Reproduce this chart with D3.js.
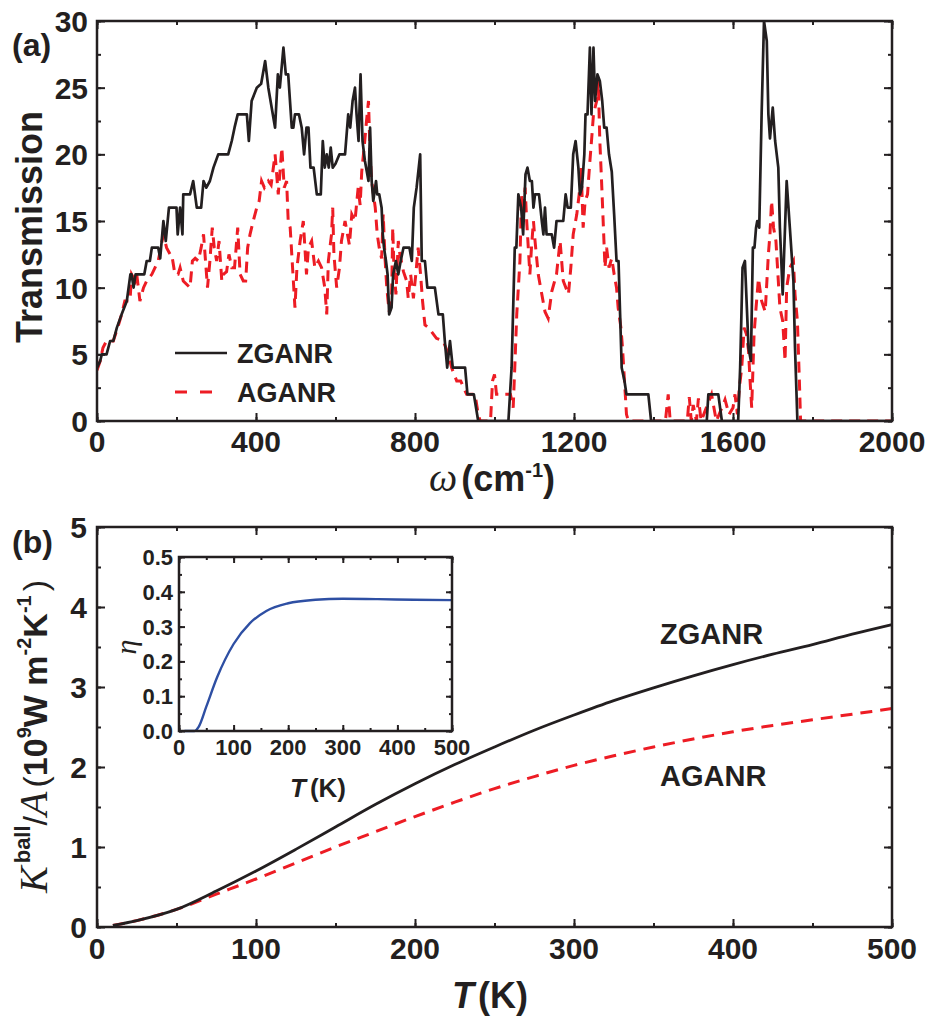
<!DOCTYPE html>
<html>
<head>
<meta charset="utf-8">
<script src="https://cdn.jsdelivr.net/npm/d3@7"></script>
<style>
  body { margin: 0; background: #fff; }
  svg { display: block; }
  text { font-family: "Liberation Sans", Arial, sans-serif; font-weight: bold; fill: #231f20; }
  .narrow { font-family: "Liberation Sans Narrow", "Liberation Sans", Arial, sans-serif; }
  .serif { font-family: "Liberation Serif", "Times New Roman", serif; font-style: italic; font-weight: normal; }
</style>
</head>
<body>
<svg id="fig" width="930" height="1024"></svg>
<script>
// ---- panel (a): transmission vs frequency, [omega (cm^-1), T]
const zganrTrans = [[0,4],[8,4.5],[12,5],[24,5],[33,6],[41,6],[50,7],[62,8],[75,9],[84,11],[87,11],[92,10],[97,11],[119,11],[125,12],[133,12],[138,13],[154,13],[159,12.2],[167,15],[173,13.5],[181,16],[200,16],[203,14],[209,16],[215,14],[217,17],[234,17],[242,18],[251,16],[262,16],[268,18],[275,17.5],[284,18],[293,19],[305,20],[330,20],[339,21],[346,22],[354,23],[377,23],[382,21],[389,24],[402,25],[413,25.3],[423,27],[431,25],[448,22],[455,26],[460,25],[469,28],[475,26],[481,26],[490,22],[494,22],[498,23],[508,23],[515,22],[521,20],[527,22],[532,22],[537,19],[545,19],[553,17],[563,17],[568,21],[573,19],[578,20],[583,19],[588,20.5],[593,19],[600,19.3],[610,20],[624,20],[632,23],[637,22],[643,24],[649,25],[653,23],[658,21],[663,26],[668,21],[674,19.5],[683,18],[687,22],[691,18],[695,16.5],[702,18],[705,17],[710,17],[716,16],[719,14],[722,13],[727,12],[731,11],[735,8],[741,8.5],[745,11],[752,12],[758,11],[764,12],[771,13],[786,13],[792,12],[797,16],[804,17.5],[813,20],[817,12],[825,12],[831,10],[850,10],[859,8],[870,8],[875,6],[881,4],[888,6],[895,4],[926,4],[932,2],[948,2],[959,0],[1035,0],[1043,4],[1051,13],[1055,13],[1060,17],[1067,16],[1072,14],[1078,18.5],[1083,19],[1089,18],[1094,18],[1098,16],[1102,17],[1112,17],[1119,15],[1123,14],[1127,16],[1131,14],[1144,14],[1150,13],[1156,15],[1173,15],[1179,17],[1184,16],[1192,16],[1198,20],[1204,21],[1211,19],[1215,17],[1220,17.5],[1226,20],[1229,23],[1234,23],[1240,28],[1244,23],[1249,28],[1253,24],[1259,26],[1265,25.5],[1271,24],[1276,22],[1282,22],[1288,20],[1295,18.7],[1301,15.5],[1307,12],[1312,12],[1316,8],[1320,4],[1327,3],[1332,2],[1387,2],[1394,0],[1534,0],[1538,2],[1563,2],[1572,0],[1613,0],[1618,4],[1624,11.5],[1630,12],[1639,5.5],[1645,4.5],[1650,13],[1654,13],[1658,14.5],[1661,15],[1666,14.5],[1672,23],[1678,30],[1685,28.5],[1689,23],[1693,21.2],[1700,23.5],[1706,21],[1714,19],[1718,14.5],[1725,9.5],[1735,18],[1743,14.5],[1752,10.5],[1756,5.5],[1762,0],[2000,0]];

const aganrTrans = [[0,3.8],[8,4.5],[15,5.5],[24,6],[41,6],[54,7.2],[62,8],[70,9],[83,9],[87,11],[96,10.5],[100,11],[108,9],[117,10],[125,10.5],[138,11],[154,12],[167,14],[175,13],[184,12.5],[188,12.5],[196,11],[204,11],[209,11.5],[217,10.5],[234,10],[240,12],[247,12.2],[255,12],[262,13],[268,14],[273,12],[278,10],[284,12],[290,14.5],[295,13],[301,12],[307,13.5],[314,10.5],[318,11],[326,11.2],[332,12.5],[339,11.5],[346,11.5],[354,14.5],[360,11],[368,10.5],[374,10.5],[379,13],[385,14],[393,15],[402,16],[408,16.5],[414,18],[421,17.5],[431,18],[438,17.7],[448,20],[456,17],[465,20.5],[471,17.5],[477,18],[481,15],[486,14.5],[490,12.5],[494,10.5],[498,8.5],[503,11.5],[511,13.5],[519,15],[523,13],[527,11],[532,13],[540,13.5],[548,11.5],[557,12],[565,11.5],[573,10],[578,8],[582,12],[590,14],[593,16],[596,12.5],[603,10],[610,11.5],[615,13.5],[624,15],[635,13.2],[641,15.5],[649,15],[657,17.5],[662,16.2],[666,18.7],[672,20.5],[678,22.5],[683,24],[687,20],[691,18],[700,16],[705,14],[710,13],[716,12.2],[720,15.5],[725,12],[729,10],[735,8.2],[741,9],[744,14.5],[747,11.5],[752,9.5],[758,13.5],[762,12.5],[771,11.2],[779,10.5],[783,9.2],[789,11],[796,9.2],[802,11],[808,13],[814,11],[819,9],[825,7.2],[834,7],[854,6.2],[871,6],[884,5],[892,4],[905,3],[915,3],[930,2],[951,2],[959,0.5],[964,0],[990,0],[995,3],[1000,3.5],[1005,2],[1014,2],[1040,2],[1047,1],[1051,4],[1056,8],[1060,10],[1064,12],[1068,17],[1072,15],[1077,17.5],[1081,15],[1085,13],[1089,11],[1093,13],[1098,15],[1102,13.5],[1110,11],[1119,9.5],[1127,8.2],[1135,7.7],[1144,9.7],[1156,11],[1165,13.5],[1173,10.5],[1186,9.5],[1192,11.5],[1198,14],[1207,15.5],[1213,17],[1218,19],[1223,14.5],[1228,16.5],[1234,17],[1240,19.5],[1244,21],[1249,23],[1257,24],[1261,25.5],[1265,21],[1270,17.5],[1274,14.5],[1278,11.5],[1282,13],[1288,11.5],[1295,12.2],[1301,11],[1307,10],[1311,8.5],[1318,7],[1322,5.5],[1327,3],[1332,0.5],[1337,0],[1430,0],[1437,2],[1442,0],[1485,0],[1490,1.8],[1495,0],[1500,1.2],[1508,0],[1513,1.7],[1520,0],[1546,2],[1552,1],[1558,0],[1575,1.2],[1580,1.6],[1590,0.5],[1600,1],[1605,2],[1611,0.5],[1616,2.5],[1622,4],[1628,7],[1634,6.5],[1639,5.3],[1643,3],[1647,1],[1653,6.5],[1658,8.5],[1664,10.7],[1672,9],[1681,8.2],[1689,12.5],[1693,14],[1697,16.5],[1702,14.5],[1708,13.5],[1714,10.5],[1718,8.5],[1725,7.5],[1731,4.5],[1735,10],[1743,11.5],[1752,12],[1756,9.5],[1762,7.5],[1767,3],[1770,0],[2000,0]];

const omegaTicks = [0, 400, 800, 1200, 1600, 2000];
const transTicks = [0, 5, 10, 15, 20, 25, 30];

// ---- panel (b): ballistic thermal conductance vs temperature
const temps = [10, 25, 50, 75, 100, 125, 150, 175, 200, 225, 250, 275, 300, 325, 350, 375, 400, 425, 450, 475, 500];
const kZganr = [0.02, 0.08, 0.22, 0.45, 0.70, 0.97, 1.25, 1.53, 1.79, 2.03, 2.25, 2.46, 2.65, 2.83, 2.99, 3.14, 3.28, 3.41, 3.53, 3.66, 3.78];
const kAganr = [0.02, 0.08, 0.22, 0.41, 0.60, 0.80, 1.00, 1.19, 1.38, 1.56, 1.73, 1.88, 2.02, 2.14, 2.25, 2.35, 2.44, 2.52, 2.59, 2.66, 2.73];
const tempTicks = [0, 100, 200, 300, 400, 500];
const kTicks = [0, 1, 2, 3, 4, 5];

// ---- inset: ratio eta vs temperature
const etaTemps = [10, 20, 28, 36, 50, 70, 100, 130, 160, 200, 250, 300, 364, 430, 500];
const etaVals = [0, 0, 0, 0.012, 0.07, 0.155, 0.25, 0.31, 0.345, 0.367, 0.377, 0.380, 0.379, 0.377, 0.376];
const etaTicks = [0.0, 0.1, 0.2, 0.3, 0.4, 0.5];

const svg = d3.select('#fig');

// frame with inward ticks on all four sides
function drawFrame(g, x, y, xMajor, xMinor, yMajor, yMinor, w, h, big) {
  const maj = big ? 8 : 6, min = big ? 4 : 3;
  const sets = [
    [d3.axisBottom(x), 'translate(0,' + h + ')', xMajor, xMinor],
    [d3.axisTop(x), 'translate(0,0)', xMajor, xMinor],
    [d3.axisLeft(y), 'translate(0,0)', yMajor, yMinor],
    [d3.axisRight(y), 'translate(' + w + ',0)', yMajor, yMinor]
  ];
  sets.forEach(([ax, tr, majorVals, minorVals]) => {
    g.append('g').attr('transform', tr)
      .call(ax.tickValues(minorVals).tickSize(-min).tickFormat(''))
      .call(s => s.select('.domain').remove())
      .selectAll('line').attr('stroke', '#231f20').attr('stroke-width', 2);
    g.append('g').attr('transform', tr)
      .call(ax.tickValues(majorVals).tickSize(-maj).tickFormat(''))
      .call(s => s.select('.domain').remove())
      .selectAll('line').attr('stroke', '#231f20').attr('stroke-width', 2);
  });
  g.append('rect').attr('width', w).attr('height', h)
    .attr('fill', 'none').attr('stroke', '#231f20').attr('stroke-width', 2.5);
}

// ================= panel (a)
const a = { left: 97, top: 21, w: 795, h: 400 };
const xA = d3.scaleLinear().domain([0, 2000]).range([0, a.w]);
const yA = d3.scaleLinear().domain([0, 30]).range([a.h, 0]);
const gA = svg.append('g').attr('transform', `translate(${a.left},${a.top})`);

gA.append('clipPath').attr('id', 'clipA').append('rect').attr('width', a.w).attr('height', a.h);
const lineA = d3.line().x(d => xA(d[0])).y(d => yA(d[1]));

gA.append('path').datum(aganrTrans).attr('clip-path', 'url(#clipA)')
  .attr('d', lineA).attr('fill', 'none').attr('stroke', '#ed1c24')
  .attr('stroke-width', 3).attr('stroke-dasharray', '11,7');
gA.append('path').datum(zganrTrans).attr('clip-path', 'url(#clipA)')
  .attr('d', lineA).attr('fill', 'none').attr('stroke', '#231f20')
  .attr('stroke-width', 2.7).attr('stroke-linejoin', 'round');

drawFrame(gA, xA, yA, omegaTicks, d3.range(0, 2001, 200), transTicks, d3.range(0, 30.1, 2.5), a.w, a.h, true);

gA.selectAll('.xlab').data(omegaTicks).enter().append('text')
  .attr('class', 'narrow').attr('x', d => xA(d)).attr('y', a.h + 31)
  .attr('text-anchor', 'middle').attr('font-size', 30).text(d => d);
gA.selectAll('.ylab').data(transTicks).enter().append('text')
  .attr('x', -9).attr('y', d => yA(d) + 11)
  .attr('text-anchor', 'end').attr('font-size', 30).text(d => d);

// legend
gA.append('line').attr('x1', 78).attr('x2', 130).attr('y1', 332).attr('y2', 332)
  .attr('stroke', '#231f20').attr('stroke-width', 2.7);
gA.append('line').attr('x1', 78).attr('x2', 115).attr('y1', 371).attr('y2', 371)
  .attr('stroke', '#ed1c24').attr('stroke-width', 3).attr('stroke-dasharray', '12,13');
gA.append('text').attr('x', 140).attr('y', 342).attr('font-size', 27).text('ZGANR');
gA.append('text').attr('x', 140).attr('y', 381).attr('font-size', 27).text('AGANR');

svg.append('text').attr('x', 12).attr('y', 56).attr('font-size', 32).text('(a)');
svg.append('text').attr('transform', 'translate(42,227) rotate(-90)')
  .attr('text-anchor', 'middle').attr('font-size', 36).text('Transmission');

const tA = svg.append('text').attr('x', 492).attr('y', 491).attr('text-anchor', 'middle').attr('font-size', 36);
tA.append('tspan').attr('class', 'serif').attr('font-size', 40).text('ω');
tA.append('tspan').attr('class', 'narrow').attr('dx', 4).text('(cm');
tA.append('tspan').attr('class', 'narrow').attr('font-size', 20).attr('dy', -14).text('-1');
tA.append('tspan').attr('class', 'narrow').attr('dy', 14).text(')');

// ================= panel (b)
const b = { left: 97, top: 527, w: 795, h: 400 };
const xB = d3.scaleLinear().domain([0, 500]).range([0, b.w]);
const yB = d3.scaleLinear().domain([0, 5]).range([b.h, 0]);
const gB = svg.append('g').attr('transform', `translate(${b.left},${b.top})`);

const lineB = d3.line().x((d, i) => xB(temps[i])).y(d => yB(d)).curve(d3.curveMonotoneX);
gB.append('path').datum(kAganr).attr('d', lineB).attr('fill', 'none')
  .attr('stroke', '#ed1c24').attr('stroke-width', 3).attr('stroke-dasharray', '12,8');
gB.append('path').datum(kZganr).attr('d', lineB).attr('fill', 'none')
  .attr('stroke', '#231f20').attr('stroke-width', 2.8);

drawFrame(gB, xB, yB, tempTicks, d3.range(0, 501, 50), kTicks, d3.range(0, 5.01, 0.5), b.w, b.h, true);

gB.selectAll('.xlab').data(tempTicks).enter().append('text')
  .attr('class', 'narrow').attr('x', d => xB(d)).attr('y', b.h + 32)
  .attr('text-anchor', 'middle').attr('font-size', 30).text(d => d);
gB.selectAll('.ylab').data(kTicks).enter().append('text')
  .attr('x', -10).attr('y', d => yB(d) + 11)
  .attr('text-anchor', 'end').attr('font-size', 30).text(d => d);

gB.append('text').attr('x', 563).attr('y', 117).attr('font-size', 29).text('ZGANR');
gB.append('text').attr('x', 563).attr('y', 259).attr('font-size', 29).text('AGANR');

svg.append('text').attr('x', 12).attr('y', 553).attr('font-size', 32).text('(b)');

const tB = svg.append('text').attr('x', 490).attr('y', 1008).attr('text-anchor', 'middle').attr('font-size', 36);
tB.append('tspan').attr('font-style', 'italic').text('T');
tB.append('tspan').attr('class', 'narrow').attr('dx', 4).text('(K)');

// rotated y label of (b)
const yl = svg.append('text').attr('transform', 'translate(47,893) rotate(-90)').attr('font-size', 34);
yl.append('tspan').attr('class', 'serif').attr('font-size', 40).text('K');
yl.append('tspan').attr('font-size', 22).attr('dx', 3).attr('dy', -17).text('ball');
yl.append('tspan').attr('font-weight', 'normal').attr('dy', 17).text('/');
yl.append('tspan').attr('class', 'serif').attr('font-size', 40).text('A');
yl.append('tspan').attr('font-weight', 'normal').attr('dx', 4).text('(');
yl.append('tspan').text('10');
yl.append('tspan').attr('font-size', 20).attr('dy', -16).text('9');
yl.append('tspan').attr('dy', 16).text('W m');
yl.append('tspan').attr('font-size', 20).attr('dy', -16).text('-2');
yl.append('tspan').attr('dy', 16).text('K');
yl.append('tspan').attr('font-size', 20).attr('dy', -16).text('-1');
yl.append('tspan').attr('font-weight', 'normal').attr('dx', 4).attr('dy', 16).text(')');

// ================= inset
const ins = { left: 179, top: 557, w: 273, h: 174 };
const xI = d3.scaleLinear().domain([0, 500]).range([0, ins.w]);
const yI = d3.scaleLinear().domain([0, 0.5]).range([ins.h, 0]);
const gI = svg.append('g').attr('transform', `translate(${ins.left},${ins.top})`);

const lineI = d3.line().x((d, i) => xI(etaTemps[i])).y(d => yI(d)).curve(d3.curveMonotoneX);
gI.append('path').datum(etaVals).attr('d', lineI).attr('fill', 'none')
  .attr('stroke', '#2e4fa3').attr('stroke-width', 2.4);

drawFrame(gI, xI, yI, tempTicks, d3.range(0, 501, 50), etaTicks, d3.range(0, 0.501, 0.05), ins.w, ins.h, false);

gI.selectAll('.xlab').data(tempTicks).enter().append('text')
  .attr('x', d => xI(d)).attr('y', ins.h + 24)
  .attr('text-anchor', 'middle').attr('font-size', 22).text(d => d);
gI.selectAll('.ylab').data(etaTicks).enter().append('text')
  .attr('x', -6).attr('y', d => yI(d) + 8)
  .attr('text-anchor', 'end').attr('font-size', 22).text(d => d.toFixed(1));

svg.append('text').attr('class', 'serif').attr('transform', 'translate(136,647) rotate(-90)')
  .attr('text-anchor', 'middle').attr('font-size', 30).text('η');

const tI = svg.append('text').attr('x', 318).attr('y', 797).attr('text-anchor', 'middle').attr('font-size', 26);
tI.append('tspan').attr('font-style', 'italic').text('T');
tI.append('tspan').attr('dx', 4).text('(K)');
</script>
</body>
</html>
